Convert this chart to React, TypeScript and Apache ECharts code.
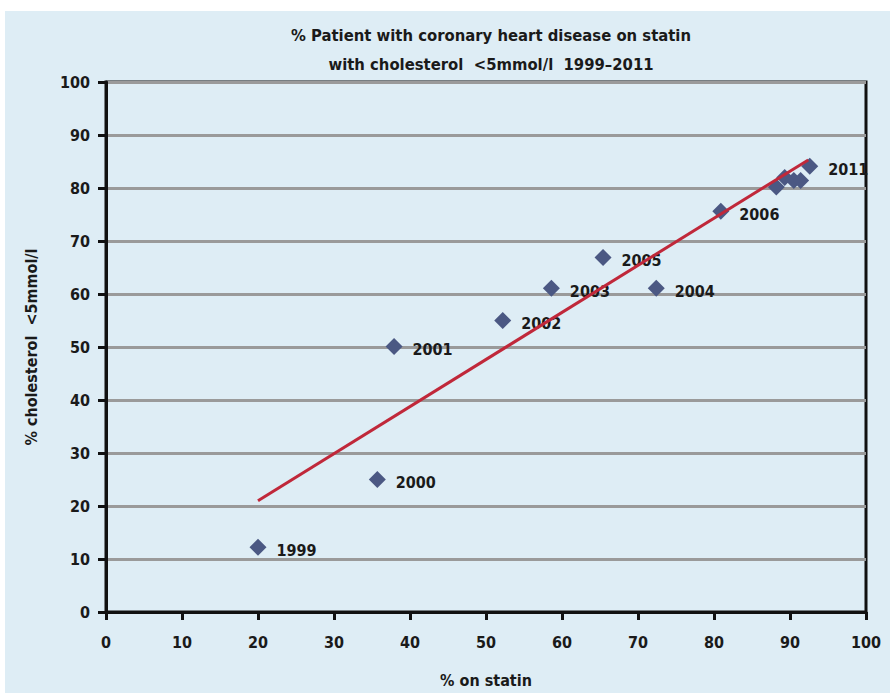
import React, { useEffect, useRef } from "react";
import * as echarts from "echarts";

const years = ["1999", "2000", "2001", "2002", "2003", "2004", "2005", "2006", "2007", "2008", "2009", "2010", "2011"];
const onStatin = [20.0, 35.7, 37.9, 52.2, 58.6, 72.4, 65.4, 80.9, 88.2, 89.3, 90.5, 91.4, 92.6];
const cholesterol = [12.2, 25.0, 50.1, 55.0, 61.1, 61.1, 66.9, 75.6, 80.2, 82.0, 81.4, 81.4, 84.1];
const labelledYears = ["1999", "2000", "2001", "2002", "2003", "2004", "2005", "2006", "2011"];
const trendX = [20.0, 92.4];
const trendY = [21.0, 85.3];

const FONT = "'DejaVu Sans Condensed', 'Liberation Sans Narrow', sans-serif";

export default function App() {
  const ref = useRef<HTMLDivElement>(null);
  useEffect(() => {
    if (!ref.current) return;
    const chart = echarts.init(ref.current, null, { renderer: "svg" });
    const points = years.map((y, i) => ({
      value: [onStatin[i], cholesterol[i]],
      name: y,
      label: { show: labelledYears.includes(y) },
    }));
    chart.setOption({
      animation: false,
      backgroundColor: "transparent",
      graphic: [
        {
          type: "rect",
          z: -10,
          shape: { x: 5, y: 11, width: 885, height: 682 },
          style: { fill: "#deedf5" },
          silent: true,
        },
      ],
      title: {
        text: "% Patient with coronary heart disease on statin\nwith cholesterol  <5mmol/l  1999–2011",
        left: 486,
        top: 16,
        textAlign: "center",
        textStyle: { fontFamily: FONT, fontSize: 16.5, fontWeight: "bold", color: "#1a1a1a", lineHeight: 29 },
      },
      grid: { left: 106, right: 24, top: 82, bottom: 75, containLabel: false, show: true, borderColor: "#111", borderWidth: 3, backgroundColor: "transparent" },
      xAxis: {
        type: "value",
        min: 0,
        max: 100,
        interval: 10,
        name: "% on statin",
        nameLocation: "middle",
        nameGap: 60,
        nameTextStyle: { fontFamily: FONT, fontSize: 16, fontWeight: "bold", color: "#1a1a1a" },
        axisLine: { show: true, lineStyle: { color: "#111", width: 3 } },
        axisTick: { show: true, length: 8, lineStyle: { color: "#111", width: 3 } },
        axisLabel: { fontFamily: FONT, fontSize: 16, fontWeight: "bold", color: "#1a1a1a", margin: 22 },
        splitLine: { show: false },
      },
      yAxis: {
        type: "value",
        min: 0,
        max: 100,
        interval: 10,
        name: "% cholesterol  <5mmol/l",
        nameLocation: "middle",
        nameGap: 67,
        nameTextStyle: { fontFamily: FONT, fontSize: 16, fontWeight: "bold", color: "#1a1a1a" },
        axisLine: { show: true, lineStyle: { color: "#111", width: 3 } },
        axisTick: { show: true, length: 8, lineStyle: { color: "#111", width: 3 } },
        axisLabel: { fontFamily: FONT, fontSize: 16, fontWeight: "bold", color: "#1a1a1a", margin: 16 },
        splitLine: { show: true, lineStyle: { color: "#9a9a9a", width: 3 } },
      },
      series: [
        {
          type: "line",
          data: trendX.map((x, i) => [x, trendY[i]]),
          symbol: "none",
          lineStyle: { color: "#c0283a", width: 3 },
          z: 3,
        },
        {
          type: "scatter",
          data: points,
          symbol: "diamond",
          symbolSize: 17,
          itemStyle: { color: "#4b5883", opacity: 1 },
          z: 2,
          label: {
            position: "right",
            distance: 10,
            formatter: (p: any) => p.name,
            fontFamily: FONT,
            fontSize: 16,
            fontWeight: "bold",
            color: "#1a1a1a",
            opacity: 1,
            offset: [0, 3],
          },
        },
      ],
    });
    return () => chart.dispose();
  }, []);
  return (
    <div style={{ position: "absolute", left: 0, top: 0, width: 890, height: 693, background: "#fff" }}>
      <div ref={ref} style={{ width: 890, height: 693 }} />
    </div>
  );
}
